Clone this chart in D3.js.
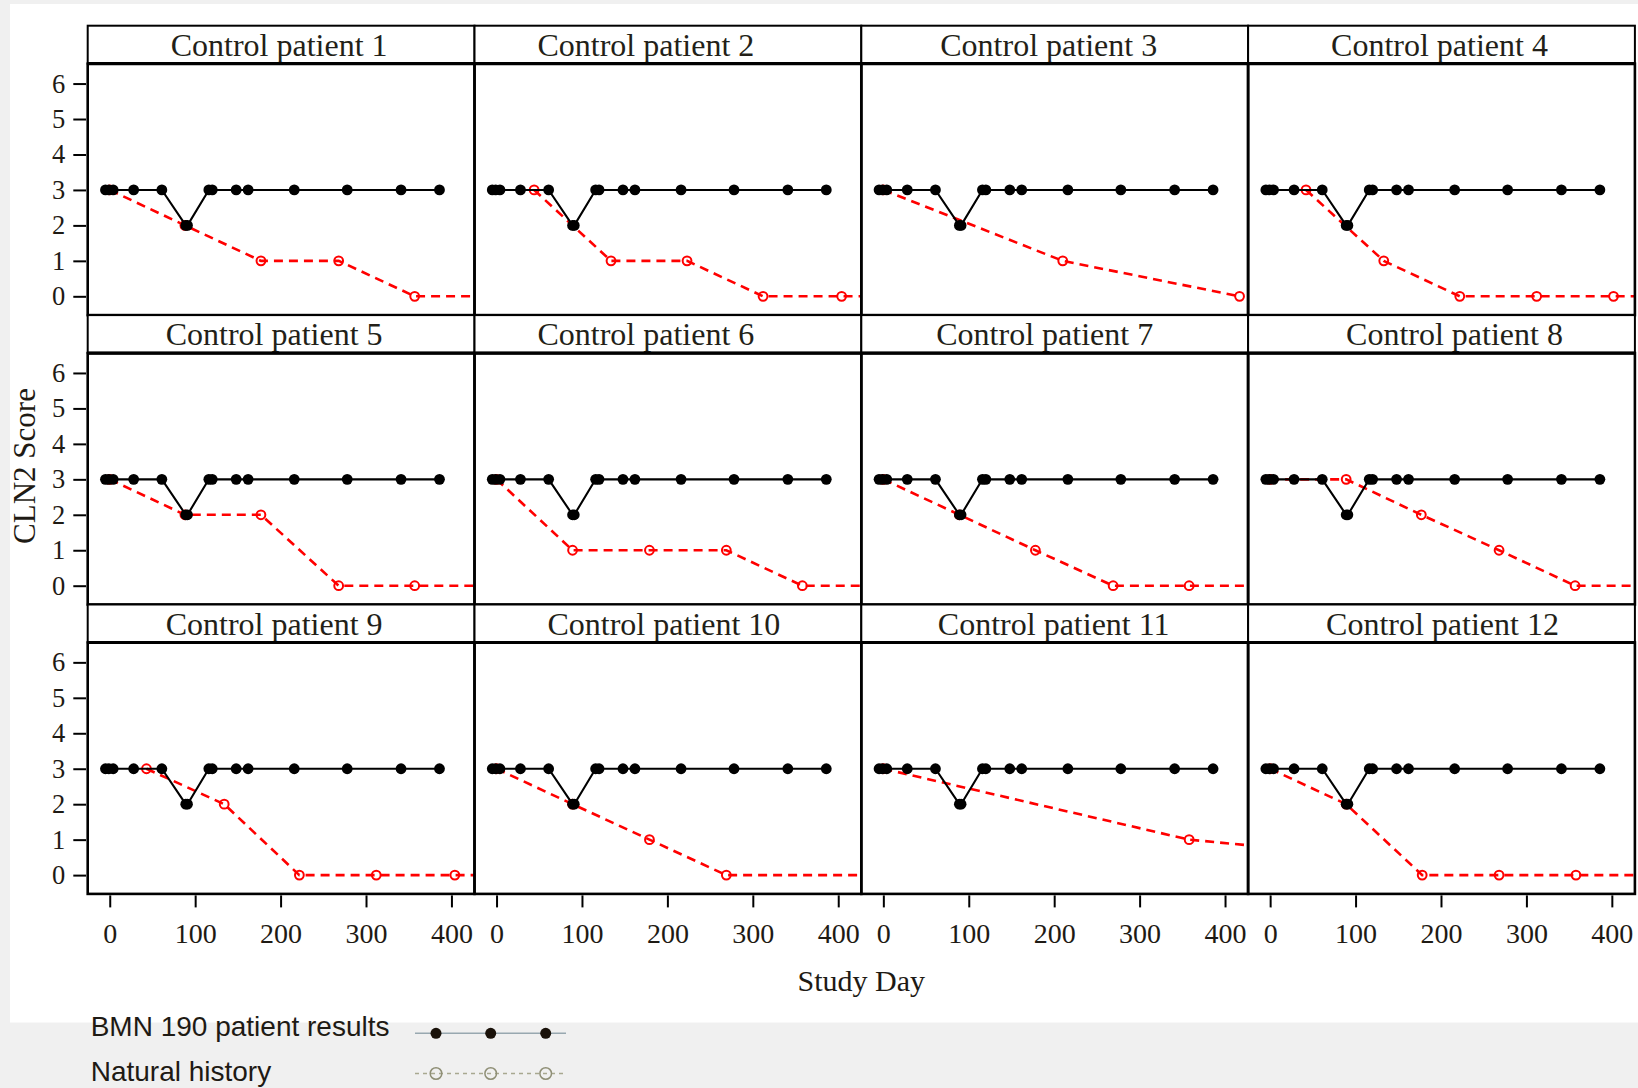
<!DOCTYPE html>
<html><head><meta charset="utf-8">
<script src="https://cdn.jsdelivr.net/npm/d3@7"></script>
<style>
html,body{margin:0;padding:0;background:#f0f0f0;}
svg{display:block;}
</style></head><body>
<svg id="chart" width="1638" height="1088"></svg>
<script>
// ---------- data ----------
const panelTitles = [
  "Control patient 1","Control patient 2","Control patient 3","Control patient 4",
  "Control patient 5","Control patient 6","Control patient 7","Control patient 8",
  "Control patient 9","Control patient 10","Control patient 11","Control patient 12"
];
// BMN 190 treated patient (same in every panel)
const bmnDays   = [-5, -1, 4, 28, 61, 89, 91, 116, 120, 148, 162, 216, 278, 341, 386];
const bmnScores = [ 3,  3, 3,  3,  3,  2,  2,   3,   3,   3,   3,   3,   3,   3,   3];
// Natural history controls
const nhDays = [
  [0, 88, 177, 268, 357, 447],
  [44, 134, 223, 312, 404, 494],
  [0, 210, 417],
  [42, 133, 222, 312, 402, 492],
  [0, 88, 177, 268, 357, 447],
  [0, 89, 179, 269, 358, 448],
  [0, 89, 178, 269, 358, 448],
  [0, 89, 177, 268, 357, 447],
  [43, 134, 222, 312, 404, 494],
  [0, 89, 179, 269, 449],
  [0, 358, 795],
  [0, 89, 178, 268, 358, 448]
];
const nhScores = [
  [3, 2, 1, 1, 0, 0],
  [3, 1, 1, 0, 0, 0],
  [3, 1, 0],
  [3, 1, 0, 0, 0, 0],
  [3, 2, 2, 0, 0, 0],
  [3, 1, 1, 1, 0, 0],
  [3, 2, 1, 0, 0, 0],
  [3, 3, 2, 1, 0, 0],
  [3, 2, 0, 0, 0, 0],
  [3, 2, 1, 0, 0],
  [3, 1, 0],
  [3, 2, 0, 0, 0, 0]
];
const xTicks = [0, 100, 200, 300, 400];
const yTicks = [0, 1, 2, 3, 4, 5, 6];
const xTitle = "Study Day";
const yTitle = "CLN2 Score";
const legendLabels = ["BMN 190 patient results", "Natural history"];

// ---------- layout ----------
const serif = "'Liberation Serif','Times New Roman',serif";
const sans = "'Liberation Sans',Arial,sans-serif";
const gridLeft = 87.7, gridTop = 25.7, colW = 386.8, rowH = 289.4, headH = 38;
const plotH = rowH - headH;
const nCols = 4, nRows = 3;
// small horizontal nudges of the strip titles, as in the original rendering
const titleShift = [-2, -22, -6, -2, -7, -22, -10, 13, -7, -4, -1, 1];

const svg = d3.select("#chart");
svg.append("rect").attr("x", 10).attr("y", 4).attr("width", 1628).attr("height", 1018.5).attr("fill", "#ffffff");

const x = d3.scaleLinear().domain([-25.8, 427]).range([0, colW]);
const y = d3.scaleLinear().domain([-0.53, 6.56]).range([plotH, 0]);

svg.append("defs").append("clipPath").attr("id", "plotclip")
  .append("rect").attr("x", 0).attr("y", 0).attr("width", colW).attr("height", plotH);

const bmn = bmnDays.map((d, i) => ({d, s: bmnScores[i]}));
const line = d3.line().x(p => x(p.d)).y(p => y(p.s));

panelTitles.forEach((title, i) => {
  const col = i % nCols, row = Math.floor(i / nCols);
  const gx = gridLeft + col * colW, gy = gridTop + row * rowH;
  const g = svg.append("g");
  // header strip
  g.append("rect").attr("x", gx).attr("y", gy).attr("width", colW).attr("height", headH)
    .attr("fill", "#fff").attr("stroke", "#000").attr("stroke-width", 2);
  g.append("text").attr("x", gx + colW / 2 + titleShift[i]).attr("y", gy + headH - 8)
    .attr("text-anchor", "middle").attr("font-family", serif).attr("font-size", 32)
    .attr("fill", "#231f18").text(title);

  const p = g.append("g").attr("transform", `translate(${gx},${gy + headH})`);
  const c = p.append("g").attr("clip-path", "url(#plotclip)");
  const nh = nhDays[i].map((d, k) => ({d, s: nhScores[i][k]}));
  c.append("path").datum(nh).attr("d", line).attr("fill", "none")
    .attr("stroke", "#ff0000").attr("stroke-width", 2.6).attr("stroke-dasharray", "9,6");
  c.selectAll("circle.nh").data(nh).join("circle").attr("class", "nh")
    .attr("cx", p2 => x(p2.d)).attr("cy", p2 => y(p2.s)).attr("r", 4.4)
    .attr("fill", "none").attr("stroke", "#ff0000").attr("stroke-width", 2);
  c.append("path").datum(bmn).attr("d", line).attr("fill", "none")
    .attr("stroke", "#000").attr("stroke-width", 2.1);
  c.selectAll("circle.bmn").data(bmn).join("circle").attr("class", "bmn")
    .attr("cx", p2 => x(p2.d)).attr("cy", p2 => y(p2.s)).attr("r", 5.4).attr("fill", "#000");

  p.append("rect").attr("x", 0).attr("y", 0).attr("width", colW).attr("height", plotH)
    .attr("fill", "none").attr("stroke", "#000").attr("stroke-width", 2.6);
  p.append("line").attr("x1", 0).attr("x2", colW).attr("y1", 0).attr("y2", 0)
    .attr("stroke", "#000").attr("stroke-width", 3.2);

  if (col === 0) {
    const ya = p.append("g").attr("transform", "translate(-1.7,0)")
      .call(d3.axisLeft(y).tickValues(yTicks).tickSize(12.7).tickPadding(8).tickFormat(d3.format("d")));
    ya.select(".domain").remove();
    ya.selectAll("line").attr("stroke", "#000").attr("stroke-width", 2);
    ya.selectAll("text").attr("font-family", serif).attr("font-size", 26.5).attr("fill", "#1e1a14");
  }
  if (row === nRows - 1) {
    const xa = p.append("g").attr("transform", `translate(0,${plotH + 1.5})`)
      .call(d3.axisBottom(x).tickValues(xTicks).tickSize(12).tickPadding(16).tickFormat(d3.format("d")));
    xa.select(".domain").remove();
    xa.selectAll("line").attr("stroke", "#000").attr("stroke-width", 2);
    xa.selectAll("text").attr("font-family", serif).attr("font-size", 28).attr("fill", "#1e1a14");
  }
});

// axis titles
svg.append("text").attr("x", gridLeft + 2 * colW).attr("y", 991)
  .attr("text-anchor", "middle").attr("font-family", serif).attr("font-size", 30)
  .attr("fill", "#1e1a14").text(xTitle);
svg.append("text").attr("transform", "translate(35,466) rotate(-90)")
  .attr("text-anchor", "middle").attr("font-family", serif).attr("font-size", 31)
  .attr("fill", "#1e1a14").text(yTitle);

// legend
const legX0 = 415, legX1 = 566, legMarks = [436, 490.7, 545.7];
const legY = [1033.3, 1073.5];
const legTextY = [1036, 1081];
const leg = svg.append("g");
legendLabels.forEach((t, k) => {
  leg.append("text").attr("x", 90.7).attr("y", legTextY[k]).attr("font-family", sans).attr("font-size", 28)
    .attr("fill", "#1e1a14").text(t);
});
leg.append("line").attr("x1", legX0).attr("x2", legX1).attr("y1", legY[0]).attr("y2", legY[0])
  .attr("stroke", "#98a8b0").attr("stroke-width", 1.5);
leg.selectAll("circle.l1").data(legMarks).join("circle").attr("class", "l1")
  .attr("cx", d => d).attr("cy", legY[0]).attr("r", 5.5).attr("fill", "#1a120a");
leg.append("line").attr("x1", legX0).attr("x2", legX1).attr("y1", legY[1]).attr("y2", legY[1])
  .attr("stroke", "#a8a890").attr("stroke-width", 1.5).attr("stroke-dasharray", "4,4");
leg.selectAll("circle.l2").data(legMarks).join("circle").attr("class", "l2")
  .attr("cx", d => d).attr("cy", legY[1]).attr("r", 5.8).attr("fill", "none")
  .attr("stroke", "#8f8f76").attr("stroke-width", 1.5);
</script>
</body></html>
